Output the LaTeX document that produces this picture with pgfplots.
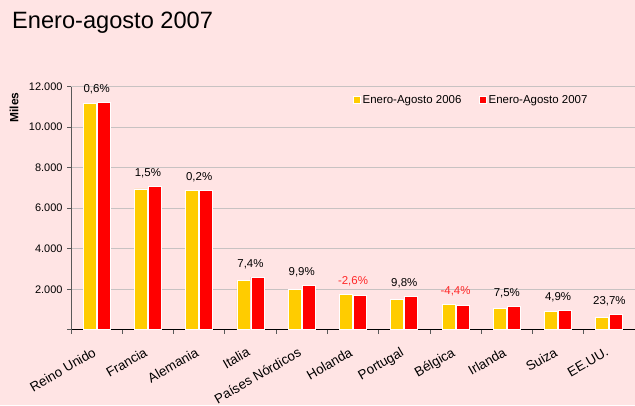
\documentclass[border=0pt]{standalone}
\usepackage{pgfplots}
\pgfplotsset{compat=1.18}
\usepackage{pgfplotstable}
\usepackage{fontspec}
\setmainfont{Liberation Sans}
\definecolor{bg}{RGB}{255,228,228}
\definecolor{yel}{RGB}{255,204,0}
\definecolor{rd}{RGB}{255,0,0}
\definecolor{gridc}{RGB}{200,194,194}
\definecolor{neg}{RGB}{255,40,40}
\pgfplotstableread{
x y2006 y2007
1 11170 11240
2 6950 7055
3 6860 6875
4 2425 2605
5 1985 2190
6 1750 1705
7 1480 1625
8 1255 1200
9 1075 1156
10 900 944
11 610 755
}\data
\begin{document}
\begin{tikzpicture}[x=1bp,y=1bp]
\fill[bg] (0,0) rectangle (635,405);
\path[use as bounding box] (0,0) rectangle (635,405);
\node[anchor=base west, font=\fontsize{23.7}{27}\selectfont, inner sep=0] at (12,376.5) {Enero-agosto 2007};
\begin{axis}[
  at={(71bp,75.2bp)}, anchor=south west, scale only axis,
  width=564bp, height=243.2bp,
  xmin=0.5, xmax=11.5, ymin=0, ymax=12000,
  scaled y ticks=false,
  axis x line=bottom, axis y line=left, axis line style={-},
  x axis line style={black, line width=0.8bp},
  y axis line style={gray!70!black, line width=0.8bp},
  tick align=outside, major tick length=4bp,
  tick style={gray!70!black, line width=0.8bp},
  ytick={0,2000,4000,6000,8000,10000,12000},
  yticklabels={,2.000,4.000,6.000,8.000,10.000,12.000},
  yticklabel style={font=\fontsize{11}{13}\selectfont, xshift=-1bp},
  ymajorgrids, grid style={gridc, line width=0.9bp},
  xtick={0.5,1.5,...,11.5}, xticklabels={},
  extra x ticks={1,2,3,4,5,6,7,8,9,10,11},
  extra x tick labels={Reino Unido,Francia,Alemania,Italia,Países Nórdicos,Holanda,Portugal,Bélgica,Irlanda,Suiza,EE.UU.},
  extra x tick style={major tick length=0pt, xticklabel style={rotate=30, anchor=north east, font=\fontsize{13.4}{16}\selectfont, yshift=-9bp, xshift=-9bp}},
  ylabel={\textbf{Miles}},
  ylabel style={at={([xshift=-57bp]rel axis cs:0,0.914)}, anchor=center, rotate=0, font=\fontsize{12}{14}\selectfont},
  legend style={at={(rel axis cs:0.495,0.945)}, anchor=west, draw=none, fill=none,
    font=\fontsize{11.5}{13}\selectfont, legend columns=2,
    /tikz/every even column/.append style={column sep=16bp}},
  clip=false,
]
\addplot[ybar, bar width=13bp, bar shift=-7bp, fill=yel, draw=white, line width=0.8bp,
  legend image code/.code={\draw[fill=yel,draw=white,line width=0.8bp] (0bp,-3bp) rectangle (6.5bp,3.5bp);}]
  table[x=x, y=y2006] {\data};
\addlegendentry{Enero-Agosto 2006}
\addplot[ybar, bar width=13bp, bar shift=7bp, fill=rd, draw=white, line width=0.8bp,
  legend image code/.code={\draw[fill=rd,draw=white,line width=0.8bp] (0bp,-3bp) rectangle (6.5bp,3.5bp);}]
  table[x=x, y=y2007] {\data};
\addlegendentry{Enero-Agosto 2007}
\begin{scope}[every node/.style={anchor=base, yshift=10bp, font=\fontsize{11.5}{13}\selectfont, inner sep=0}]
\node at (axis cs:1,11240) {0,6\%};
\node at (axis cs:2,7055) {1,5\%};
\node at (axis cs:3,6875) {0,2\%};
\node at (axis cs:4,2605) {7,4\%};
\node at (axis cs:5,2190) {9,9\%};
\node[text=neg] at (axis cs:6,1750) {-2,6\%};
\node at (axis cs:7,1625) {9,8\%};
\node[text=neg] at (axis cs:8,1255) {-4,4\%};
\node at (axis cs:9,1156) {7,5\%};
\node at (axis cs:10,944) {4,9\%};
\node at (axis cs:11,755) {23,7\%};
\end{scope}
\end{axis}
\end{tikzpicture}
\end{document}
